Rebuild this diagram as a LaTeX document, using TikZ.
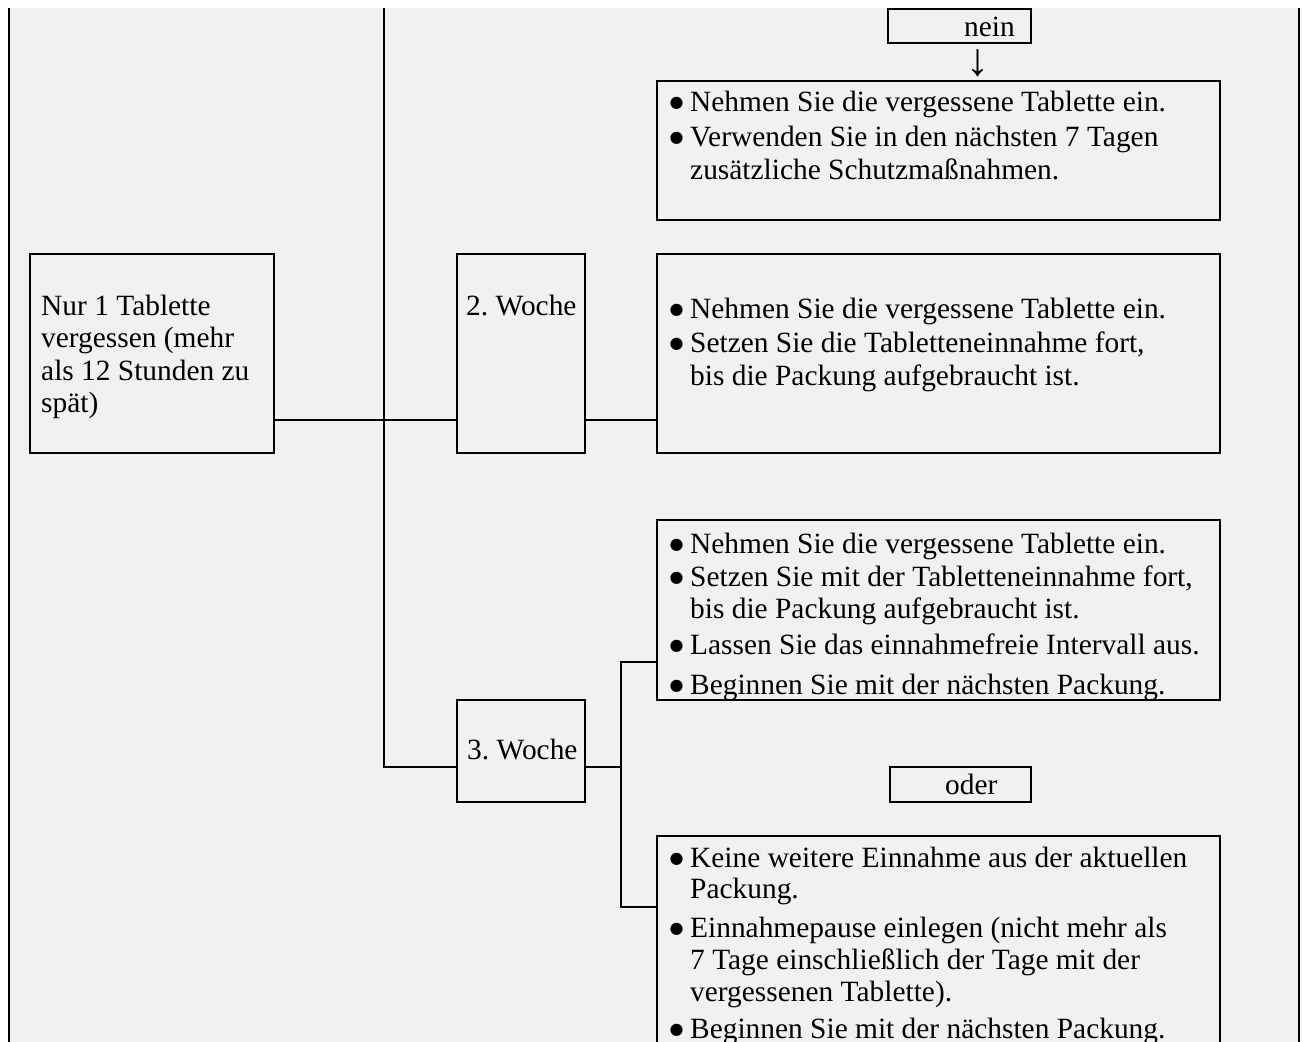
\documentclass[tikz,border=0pt]{standalone}
\usepackage{fontspec}
\setmainfont{Liberation Serif}
\newfontfamily\dvfont{DejaVu Sans}
\definecolor{bg}{RGB}{241,241,241}
\newcommand{\mydot}{\smash{\raisebox{3.5pt}{\dvfont\fontsize{16}{16}\selectfont ●}}}
\newcommand{\myb}[1]{\makebox[20pt][l]{\hspace*{-0.5pt}\mydot}#1}
\newcommand{\myc}[1]{\hspace*{20pt}#1}
\tikzset{
  box/.style={draw=black, line width=1.6pt, inner sep=0pt, outer sep=0pt, anchor=north west},
  txt/.style={anchor=base west, inner sep=0pt, font=\fontsize{29.4}{32}\selectfont},
  conn/.style={draw=black, line width=1.6pt},
  frame/.style={draw=black, line width=2pt},
}
\begin{document}
\begin{tikzpicture}[x=1pt,y=-1pt]
\useasboundingbox (0,0) rectangle (1302,1042);
\clip (0,0) rectangle (1302,1042);
\fill[white] (0,0) rectangle (1302,1042);
\fill[bg] (9,8) rectangle (1302,1042);
\draw[frame] (9,8) -- (9,1042);
\draw[frame] (1299,8) -- (1299,1042);

% boxes
\node[box, minimum width=143pt, minimum height=34pt] (nein) at (888,9) {};
\node[box, minimum width=563pt, minimum height=139pt] (b1) at (657,81) {};
\node[box, minimum width=244pt, minimum height=199pt] (lb) at (30,254) {};
\node[box, minimum width=128pt, minimum height=199pt] (w2) at (457,254) {};
\node[box, minimum width=563pt, minimum height=199pt] (b2) at (657,254) {};
\node[box, minimum width=563pt, minimum height=180pt] (b3) at (657,520) {};
\node[box, minimum width=128pt, minimum height=102pt] (w3) at (457,700) {};
\node[box, minimum width=141pt, minimum height=35pt] (oder) at (890,767) {};
\node[box, minimum width=563pt, minimum height=260pt] (b4) at (657,836) {};

% connectors
\coordinate (top) at (384,8);
\coordinate (j1) at (384,420);
\coordinate (j2) at (384,767);
\coordinate (j3) at (621,767);
\coordinate (j4) at (621,662);
\coordinate (j5) at (621,907);
\draw[conn] (lb.east |- j1) -- (w2.west |- j1);
\draw[conn] (w2.east |- j1) -- (b2.west |- j1);
\draw[conn] (top) -- (j2) -- (w3.west |- j2);
\draw[conn] (w3.east |- j3) -- (j3);
\draw[conn] (b3.west |- j4) -- (j4) -- (j5) -- (b4.west |- j5);

% texts
\node[txt] (tnein) at (964,36) {nein};
\node[anchor=center, inner sep=0pt, font=\fontsize{46}{46}\selectfont] (arr) at (978,63) {↓};
\node[txt] (tb1) at (670,111) {\parbox[t]{600pt}{\lineskiplimit=-100pt
  \myb{Nehmen Sie die vergessene Tablette ein.}\\[3pt]
  \myb{Verwenden Sie in den nächsten 7 Tagen}\\[1pt]
  \myc{zusätzliche Schutzmaßnahmen.}}};
\node[txt] (tlb) at (41,315) {\parbox[t]{240pt}{\lineskiplimit=-100pt
  Nur 1 Tablette\\[0.5pt]
  vergessen (mehr\\[0.5pt]
  als 12 Stunden zu\\[0.5pt]
  spät)}};
\node[txt] (tw2) at (466,315) {2.\ Woche};
\node[txt] (tb2) at (670,318) {\parbox[t]{600pt}{\lineskiplimit=-100pt
  \myb{Nehmen Sie die vergessene Tablette ein.}\\[2pt]
  \myb{Setzen Sie die Tabletteneinnahme fort,}\\[1pt]
  \myc{bis die Packung aufgebraucht ist.}}};
\node[txt] (tb3) at (670,553) {\parbox[t]{600pt}{\lineskiplimit=-100pt
  \myb{Nehmen Sie die vergessene Tablette ein.}\\[1pt]
  \myb{Setzen Sie mit der Tabletteneinnahme fort,}\\[0pt]
  \myc{bis die Packung aufgebraucht ist.}\\[4pt]
  \myb{Lassen Sie das einnahmefreie Intervall aus.}\\[8pt]
  \myb{Beginnen Sie mit der nächsten Packung.}}};
\node[txt] (tw3) at (467,759) {3.\ Woche};
\node[txt] (toder) at (945,794) {oder};
\node[txt] (tb4) at (670,867) {\parbox[t]{600pt}{\lineskiplimit=-100pt
  \myb{Keine weitere Einnahme aus der aktuellen}\\[-1pt]
  \myc{Packung.}\\[7pt]
  \myb{Einnahmepause einlegen (nicht mehr als}\\[0pt]
  \myc{7 Tage einschließlich der Tage mit der}\\[0pt]
  \myc{vergessenen Tablette).}\\[5pt]
  \myb{Beginnen Sie mit der nächsten Packung.}}};
\end{tikzpicture}
\end{document}
